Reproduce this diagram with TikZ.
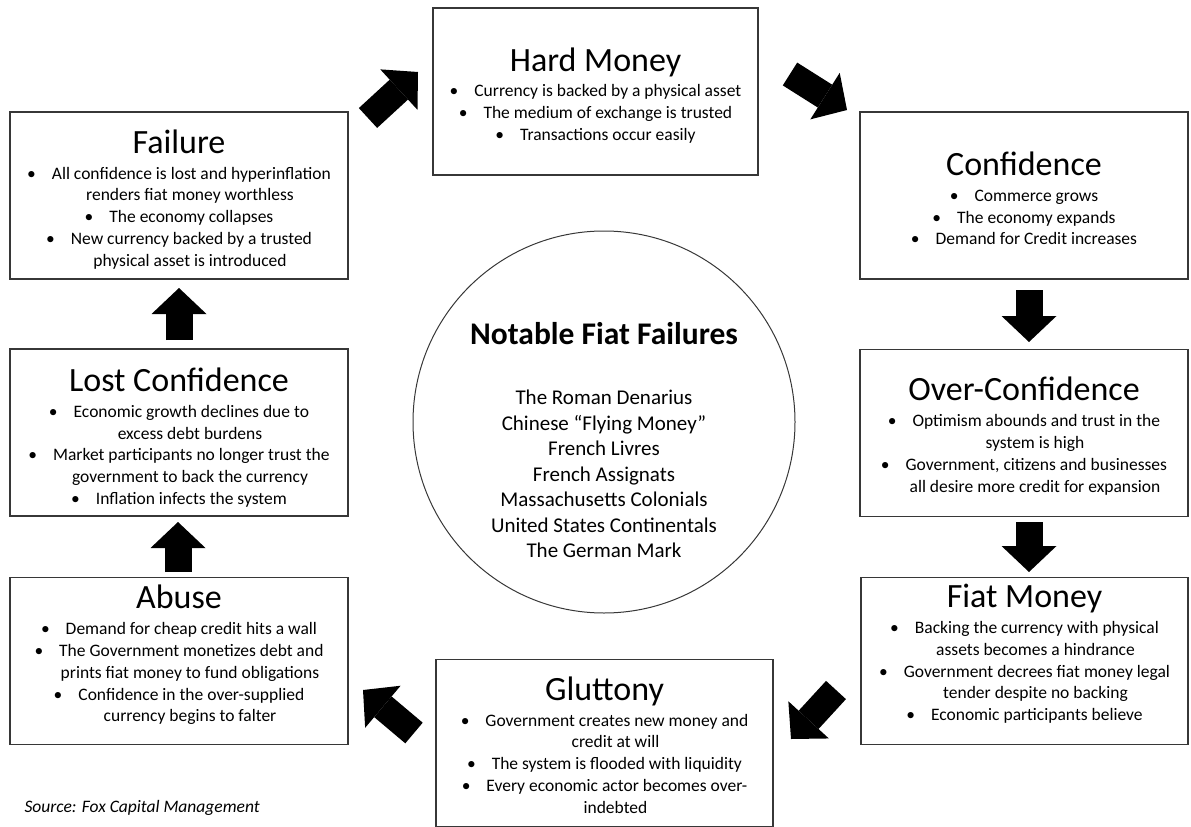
\documentclass[tikz,border=0pt]{standalone}
\usepackage{fontspec}
\setmainfont{Carlito}
\usetikzlibrary{arrows.meta}
\definecolor{boxline}{RGB}{55,55,55}

\newcommand{\stage}[1]{{\fontsize{34}{38}\selectfont #1}\\[4pt]}
\newcommand{\bul}{\textbullet\hspace{16pt}}
\newcommand{\cont}{\hspace*{22pt}}

\begin{document}
\begin{tikzpicture}[x=1pt, y=-1pt,
  stagebox/.style={draw=boxline, line width=1.3pt, inner sep=0pt, minimum height=167pt},
  stagetext/.style={align=center, inner sep=0pt, font=\fontsize{17.5}{21.8}\selectfont},
  blockarr/.style={line width=27pt, -{Triangle[width=55pt,length=26pt,line width=0pt]}}
]
\useasboundingbox (0,0) rectangle (1191,827);

% cycle boxes
\node[stagebox, minimum width=325pt] (hard) at (595.5,91.5) {};
\node[stagebox, minimum width=328pt] (conf) at (1024,195.5) {};
\node[stagebox, minimum width=328pt] (over) at (1024,433) {};
\node[stagebox, minimum width=327pt] (fiat) at (1024.5,661) {};
\node[stagebox, minimum width=337pt] (glut) at (604.5,743) {};
\node[stagebox, minimum width=338pt] (abuse) at (179,661) {};
\node[stagebox, minimum width=338pt] (lost) at (179,432.5) {};
\node[stagebox, minimum width=338pt] (failure) at (179,195.5) {};

% box texts
\node[stagetext] (hard-t) at ([yshift=-4pt]hard.center) {\stage{Hard Money}
  \bul Currency is backed by a physical asset\\
  \bul The medium of exchange is trusted\\
  \bul Transactions occur easily};
\node[stagetext] (conf-t) at ([yshift=-3pt]conf.center) {\stage{Confidence}
  \bul Commerce grows\\
  \bul The economy expands\\
  \bul Demand for Credit increases};
\node[stagetext] (over-t) at ([yshift=-3pt]over.center) {\stage{Over-Confidence}
  \bul Optimism abounds and trust in the\\
  \cont system is high\\
  \bul Government, citizens and businesses\\
  \cont all desire more credit for expansion};
\node[stagetext] (fiat-t) at ([yshift=7pt]fiat.center) {\stage{Fiat Money}
  \bul Backing the currency with physical\\
  \cont assets becomes a hindrance\\
  \bul Government decrees fiat money legal\\
  \cont tender despite no backing\\
  \bul Economic participants believe};
\node[stagetext] (glut-t) at ([yshift=-2pt]glut.center) {\stage{Gluttony}
  \bul Government creates new money and\\
  \cont credit at will\\
  \bul The system is flooded with liquidity\\
  \bul Every economic actor becomes over-\\
  \cont indebted};
\node[stagetext] (abuse-t) at ([yshift=6pt]abuse.center) {\stage{Abuse}
  \bul Demand for cheap credit hits a wall\\
  \bul The Government monetizes debt and\\
  \cont prints fiat money to fund obligations\\
  \bul Confidence in the over-supplied\\
  \cont currency begins to falter};
\node[stagetext] (lost-t) at ([yshift=-5pt]lost.center) {\stage{Lost Confidence}
  \bul Economic growth declines due to\\
  \cont excess debt burdens\\
  \bul Market participants no longer trust the\\
  \cont government to back the currency\\
  \bul Inflation infects the system};
\node[stagetext] (failure-t) at ([yshift=-4pt]failure.center) {\stage{Failure}
  \bul All confidence is lost and hyperinflation\\
  \cont renders fiat money worthless\\
  \bul The economy collapses\\
  \bul New currency backed by a trusted\\
  \cont physical asset is introduced};

% centre circle
\node[circle, draw=boxline, line width=1pt, minimum size=382pt] (notable) at (604,422) {};
\node[align=center, font=\fontsize{21}{25.5}\selectfont] (notable-t) at ([yshift=-18pt]notable.center)
  {{\fontsize{31.5}{34}\selectfont\bfseries Notable Fiat Failures}\\[35pt]
   The Roman Denarius\\
   Chinese “Flying Money”\\
   French Livres\\
   French Assignats\\
   Massachusetts Colonials\\
   United States Continentals\\
   The German Mark};

\node[anchor=west, font=\fontsize{17.5}{20}\selectfont\itshape] (source) at (21,808) {Source: Fox Capital Management};

% block arrows
\coordinate (f2h-s) at (368,118); \coordinate (f2h-e) at (418,72);
\coordinate (h2c-s) at (790,74);  \coordinate (h2c-e) at (847,110);
\coordinate (c2o-s) at (1029,290); \coordinate (c2o-e) at (1029,342);
\coordinate (o2f-s) at (1029,522); \coordinate (o2f-e) at (1029,572);
\coordinate (f2g-s) at (836,690); \coordinate (f2g-e) at (791,739);
\coordinate (g2a-s) at (414,733); \coordinate (g2a-e) at (363,690);
\coordinate (a2l-s) at (178,572); \coordinate (a2l-e) at (178,522);
\coordinate (l2f-s) at (179,340); \coordinate (l2f-e) at (179,288);
\draw[blockarr] (f2h-s) -- (f2h-e);
\draw[blockarr] (h2c-s) -- (h2c-e);
\draw[blockarr] (c2o-s) -- (c2o-e);
\draw[blockarr] (o2f-s) -- (o2f-e);
\draw[blockarr] (f2g-s) -- (f2g-e);
\draw[blockarr] (g2a-s) -- (g2a-e);
\draw[blockarr] (a2l-s) -- (a2l-e);
\draw[blockarr] (l2f-s) -- (l2f-e);
\end{tikzpicture}
\end{document}
